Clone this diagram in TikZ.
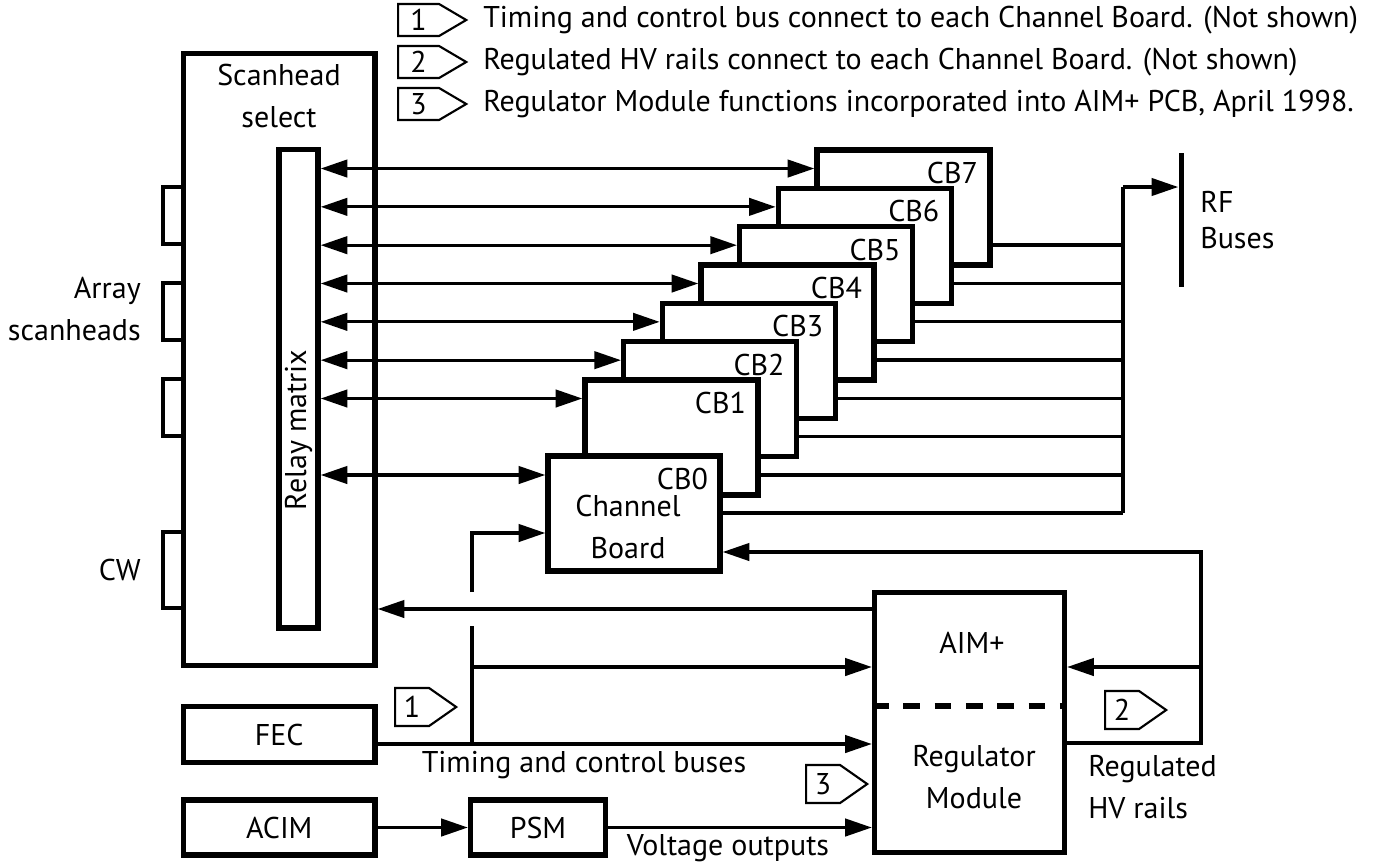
\documentclass[tikz,border=0pt]{standalone}
\usepackage{fontspec}
\setmainfont{PT Sans}
\usetikzlibrary{arrows.meta,shapes.symbols}
\newlength\pxu
\setlength\pxu{0.75pt}

\begin{document}
\begin{tikzpicture}[x=\pxu, y=-\pxu, >={Triangle[length=20pt,width=13pt]},
  font=\fontsize{22.5}{31.5}\selectfont,
  blk/.style={draw, line width=4pt, fill=white, inner sep=0pt},
  board/.style={blk, minimum width=173\pxu, minimum height=115\pxu},
  cbl/.style={anchor=north east, inner sep=0pt, xshift=-14.5\pxu, yshift=-14.5\pxu},
  wire/.style={line width=2.4pt},
  port/.style={line width=2.4pt},
  txt/.style={inner sep=0pt},
  tag/.style={draw, line width=1.6pt, signal, signal to=east, inner xsep=0pt,
    inner ysep=0pt, align=center, fill=white},
  tagtop/.style={tag, text width=41\pxu, minimum height=32\pxu, signal pointer angle=61},
  tagbot/.style={tag, text width=34\pxu, minimum height=38\pxu, signal pointer angle=70}]
  \useasboundingbox (0,0) rectangle (1379,865);

  % Notes
  \node[tagtop, anchor=west] (k1) at (397,20) {1};
  \node[tagtop, anchor=west] (k2) at (397,62) {2};
  \node[tagtop, anchor=west] (k3) at (397,104) {3};
  \node[txt, anchor=west] (note1) at (483,20) {Timing and control bus connect to each Channel Board. (Not shown)};
  \node[txt, anchor=west] (note2) at (483,62) {Regulated HV rails connect to each Channel Board. (Not shown)};
  \node[txt, anchor=west] (note3) at (483,104) {Regulator Module functions incorporated into AIM+ PCB, April 1998.};

  % Scanhead select and relay matrix
  \node[blk, minimum width=191.5\pxu, minimum height=612\pxu] (scan) at (279.25,359.5) {};
  \node[align=center] (scantxt) at (279,95.5) {Scanhead\\select};
  \node[blk, minimum width=39\pxu, minimum height=478.5\pxu] (relay) at (298.5,388.75) {};
  \node[rotate=90] (relaytxt) at (298.5,430) {Relay matrix};
  \foreach \ya/\yb in {187/244,283/340,379/436,532/608}
    \draw[port] (scan.west |- 0,\ya) -| (163,\yb) -- (scan.west |- 0,\yb);
  \node[txt, anchor=east, align=right] (arrtxt) at (141,309) {Array\\scanheads};
  \node[txt, anchor=east] (cwtxt) at (141,570) {CW};

  % Channel boards, back to front
  \foreach \k in {7,6,...,1} {
    \pgfmathsetmacro\bx{671.5+38.67*(\k-1)}
    \pgfmathsetmacro\by{437.5-38.33*(\k-1)}
    \node[board, label={[cbl]north east:CB\k}] (cb\k) at (\bx,\by) {};
  }
  \node[board, minimum width=172\pxu, label={[cbl]north east:CB0}] (cb0) at (634,513.5) {};
  \node[align=center] (cbtxt) at (628,527) {Channel\\Board};

  % Relay matrix to boards
  \foreach \k in {1,...,7} {
    \pgfmathsetmacro\ay{398.5-38.33*(\k-1)}
    \draw[wire, <->] (relay.east |- 0,\ay) -- (cb\k.west |- 0,\ay);
  }
  \draw[wire, <->] (relay.east |- 0,475) -- (cb0.west |- 0,475);

  % RF buses
  \coordinate (bustop) at (1123,187);
  \coordinate (busbot) at (1123,513);
  \foreach \k in {1,...,7} {
    \pgfmathsetmacro\oy{475-38.33*(\k-1)}
    \draw[wire] (cb\k.east |- 0,\oy) -- (bustop |- 0,\oy);
  }
  \draw[wire] (cb0.east |- busbot) -- (busbot);
  \draw[wire] (busbot) -- (bustop);
  \node[fill, inner sep=0pt, minimum width=5\pxu, minimum height=134\pxu] (rf) at (1181,220) {};
  \draw[wire, ->] (bustop) -- (rf.west |- bustop);
  \node[txt, anchor=west, align=left, font=\fontsize{22.5}{27}\selectfont] (rftxt) at (1200,220) {RF\\Buses};

  % AIM+ and regulator module
  \node[blk, minimum width=190\pxu, minimum height=260\pxu] (aim) at (969.5,722.5) {};
  \node (aimtxt) at (972,643) {AIM+};
  \node[align=center] (regtxt) at (974,777.5) {Regulator\\Module};
  \draw[line width=4pt, dash pattern=on 12.5pt off 11pt] (aim.west |- 0,706) -- (aim.east |- 0,706);

  % FEC, ACIM, PSM
  \node[blk, minimum width=191.5\pxu, minimum height=56\pxu] (fec) at (279.25,734.5) {FEC};
  \node[blk, minimum width=191.5\pxu, minimum height=55\pxu] (acim) at (279.25,827.5) {ACIM};
  \node[blk, minimum width=135\pxu, minimum height=55\pxu] (psm) at (538,827.5) {PSM};

  % Timing and control buses
  \coordinate (tcx) at (472,744);
  \draw[wire, ->] (fec.east |- tcx) -- (aim.west |- tcx);
  \draw[wire] (tcx) -- (472,626);
  \draw[wire, ->] (472,592) |- (cb0.west |- 0,533);
  \draw[wire, ->] (472,667) -- (aim.west |- 0,667);
  \draw[wire, ->] (aim.west |- 0,609) -- (scan.east |- 0,609);
  \node (tctxt) at (584,765) {Timing and control buses};

  % Voltage outputs
  \draw[wire, ->] (acim) -- (psm);
  \draw[wire, ->] (psm.east) -- (psm.east -| aim.west);
  \node (vtxt) at (728,848) {Voltage outputs};

  % Regulated HV rails
  \coordinate (railx) at (1201,743);
  \draw[wire, ->] (aim.east |- railx) -- (railx) -- (1201,552) -- (cb0.east |- 0,552);
  \draw[wire, ->] (1201,667) -- (aim.east |- 0,667);
  \node[txt, anchor=west, align=left] (hvtxt) at (1088,787.5) {Regulated\\HV rails};

  % Callouts
  \node[tagbot, anchor=west] (n1) at (394,707) {1};
  \node[tagbot, anchor=west] (n2) at (1104,710) {2};
  \node[tagbot, anchor=west] (n3) at (805,784) {3};
\end{tikzpicture}
\end{document}
